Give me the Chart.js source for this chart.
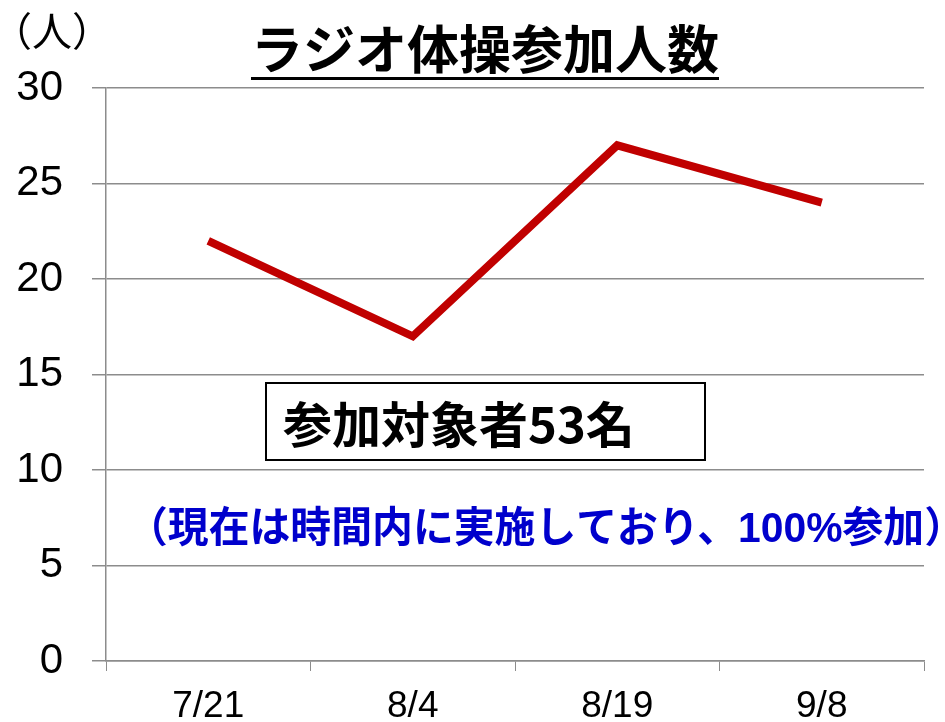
<!DOCTYPE html>
<html><head><meta charset="utf-8">
<script src="https://cdn.jsdelivr.net/npm/chart.js@4/dist/chart.umd.min.js"></script>
<style>html,body{margin:0;padding:0;background:#fff}#wrap{width:945px;height:722px}</style>
</head><body><div id="wrap"><canvas id="c" width="945" height="722"></canvas></div>
<script>
const categories = ['7/21', '8/4', '8/19', '9/8'];
const participants = [22, 17, 27, 24];
const yTicks = [0, 5, 10, 15, 20, 25, 30];
const titleText = 'ラジオ体操参加人数';
const unitText = '（人）';
const boxText = '参加対象者53名';
const noteText = '（現在は時間内に実施しており、100%参加）';

const annot = {
  id: 'annot',
  afterDraw(chart) {
    const ctx = chart.ctx;
    ctx.save();
    // unit
    ctx.fillStyle = '#000';
    ctx.font = "40px 'Noto Sans CJK JP'";
    ctx.textBaseline = 'middle';
    ctx.textAlign = 'left';
    ctx.fillText(unitText, -8, 31);
    // title
    ctx.font = "bold 52px 'Noto Sans CJK JP'";
    ctx.textAlign = 'center';
    const tw = ctx.measureText(titleText).width;
    ctx.fillText(titleText, 485, 49);
    ctx.fillRect(485 - tw / 2, 77, tw, 3);
    // box
    ctx.fillStyle = '#fff';
    ctx.fillRect(266, 383, 439, 77);
    ctx.strokeStyle = '#000';
    ctx.lineWidth = 2;
    ctx.strokeRect(266, 383, 439, 77);
    ctx.fillStyle = '#000';
    ctx.font = "bold 49px 'Noto Sans CJK JP'";
    ctx.textAlign = 'left';
    ctx.fillText(boxText, 283, 424);
    // note
    ctx.fillStyle = '#0000CC';
    ctx.font = "bold 42px 'Liberation Sans', 'Noto Sans CJK JP'";
    ctx.fillText(noteText, 127, 530, 838);
    ctx.restore();
  }
};

new Chart(document.getElementById('c'), {
  type: 'line',
  data: {
    labels: categories,
    datasets: [{
      data: participants,
      borderColor: '#C00000',
      borderWidth: 8,
      pointRadius: 0,
      tension: 0,
      borderJoinStyle: 'miter',
      borderCapStyle: 'butt',
      fill: false
    }]
  },
  options: {
    responsive: false,
    animation: false,
    layout: { padding: { left: 0, top: 88, right: 21, bottom: 0 } },
    plugins: { legend: { display: false }, tooltip: { enabled: false } },
    scales: {
      x: {
        offset: true,
        grid: { offset: true, drawOnChartArea: false, drawTicks: true, tickLength: 10, color: '#8c8c8c', lineWidth: 1 },
        border: { color: '#8c8c8c', width: 1.5 },
        ticks: { color: '#000', font: { family: "'Liberation Sans'", size: 37 }, padding: 14, maxRotation: 0 },
        afterFit(s) { s.height = 61; }
      },
      y: {
        min: 0, max: 30,
        afterBuildTicks(s) { s.ticks = yTicks.map(v => ({ value: v })); },
        grid: { color: '#8c8c8c', lineWidth: 1.5, tickLength: 14 },
        border: { color: '#8c8c8c', width: 1.5 },
        ticks: { color: '#000', font: { family: "'Liberation Sans'", size: 42 }, padding: 29 },
        afterFit(s) { s.width = 106; }
      }
    }
  },
  plugins: [annot]
});
</script></body></html>
